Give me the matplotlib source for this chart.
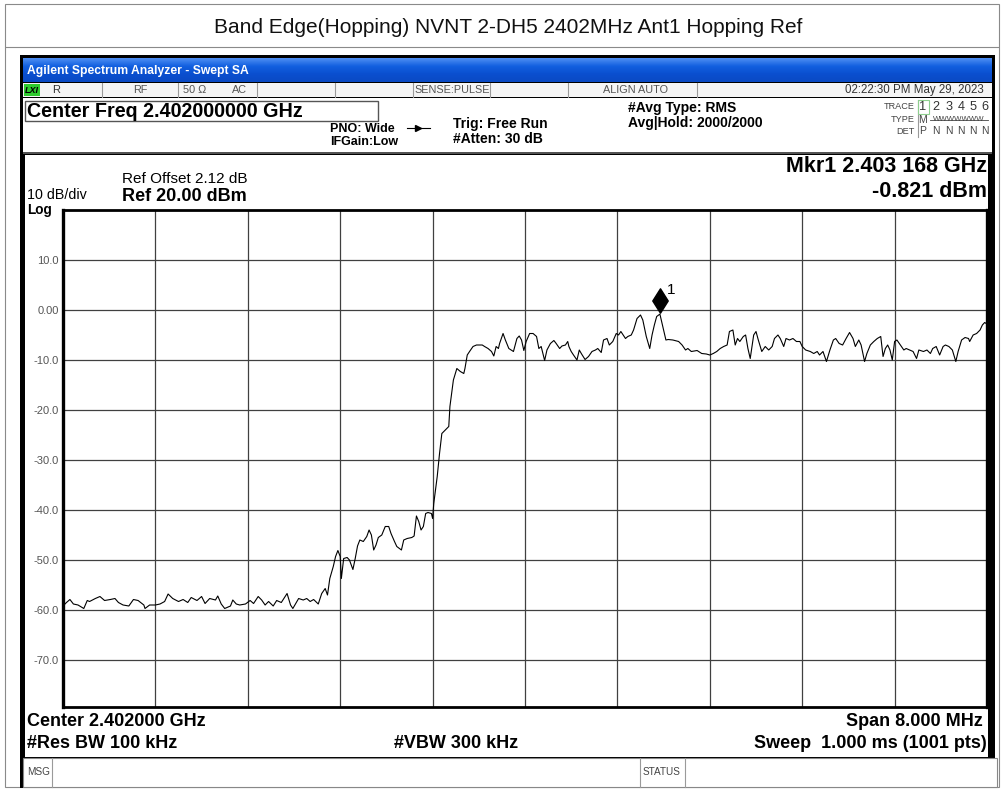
import numpy as np
import matplotlib
matplotlib.use("Agg")
import matplotlib.pyplot as plt
from matplotlib.patches import Rectangle
from matplotlib.path import Path
from matplotlib.colors import LinearSegmentedColormap

plt.rcParams['font.family'] = ['Liberation Sans', 'DejaVu Sans']

# ---------------- data ----------------
title = "Band Edge(Hopping) NVNT 2-DH5 2402MHz Ant1 Hopping Ref"
center_mhz = 2402.0
span_mhz = 8.0
ref_level = 20.0
db_per_div = 10.0
y_tick_values = [10, 0, -10, -20, -30, -40, -50, -60, -70]
y_tick_labels = ["10.0", "0.00", "-10.0", "-20.0", "-30.0", "-40.0", "-50.0", "-60.0", "-70.0"]

marker_mhz = 2403.168
marker_dbm = -0.821

# trace: offset from start frequency (MHz), level (dBm)
trace_offset_mhz = [
    0.00, 0.03, 0.06, 0.09, 0.13, 0.18, 0.21, 0.23, 0.28, 0.32, 0.36, 0.41, 0.45, 0.48,
    0.52, 0.57, 0.61, 0.65, 0.70, 0.71, 0.75, 0.80, 0.84, 0.88, 0.91, 0.95, 1.00, 1.04,
    1.08, 1.11, 1.16, 1.20, 1.23, 1.27, 1.32, 1.34, 1.37, 1.40, 1.45, 1.47, 1.50, 1.53,
    1.58, 1.62, 1.65, 1.69, 1.72, 1.75, 1.78, 1.82, 1.85, 1.89, 1.94, 1.97, 1.99, 2.04,
    2.08, 2.11, 2.14, 2.17, 2.21, 2.24, 2.27, 2.29, 2.31, 2.34, 2.36, 2.38, 2.40, 2.41,
    2.43, 2.46, 2.48, 2.51, 2.53, 2.55, 2.57, 2.60, 2.63, 2.65, 2.67, 2.69, 2.71, 2.73,
    2.76, 2.79, 2.82, 2.84, 2.87, 2.89, 2.93, 2.95, 2.98, 3.02, 3.04, 3.06, 3.08, 3.10,
    3.12, 3.14, 3.16, 3.19, 3.20, 3.21, 3.24, 3.26, 3.28, 3.31, 3.34, 3.35, 3.38, 3.41,
    3.44, 3.47, 3.48, 3.50, 3.52, 3.55, 3.58, 3.63, 3.65, 3.68, 3.71, 3.73, 3.75, 3.77,
    3.78, 3.81, 3.83, 3.86, 3.88, 3.90, 3.93, 3.95, 3.97, 3.99, 4.01, 4.04, 4.07, 4.10,
    4.12, 4.14, 4.17, 4.19, 4.22, 4.25, 4.27, 4.30, 4.32, 4.35, 4.37, 4.38, 4.40, 4.42,
    4.45, 4.47, 4.49, 4.52, 4.55, 4.58, 4.61, 4.63, 4.66, 4.68, 4.71, 4.73, 4.76, 4.79,
    4.81, 4.83, 4.85, 4.87, 4.89, 4.92, 4.94, 4.97, 5.00, 5.02, 5.05, 5.08, 5.10, 5.12,
    5.14, 5.168, 5.18, 5.20, 5.22, 5.24, 5.28, 5.33, 5.36, 5.39, 5.41, 5.44, 5.49, 5.53,
    5.57, 5.60, 5.63, 5.66, 5.69, 5.72, 5.75, 5.77, 5.80, 5.82, 5.84, 5.86, 5.89, 5.91,
    5.93, 5.95, 5.98, 6.00, 6.02, 6.05, 6.08, 6.11, 6.14, 6.16, 6.19, 6.21, 6.24, 6.26,
    6.29, 6.32, 6.35, 6.38, 6.40, 6.43, 6.47, 6.50, 6.53, 6.55, 6.58, 6.61, 6.64, 6.67,
    6.69, 6.72, 6.75, 6.78, 6.81, 6.84, 6.86, 6.89, 6.91, 6.94, 6.96, 6.99, 7.02, 7.05,
    7.08, 7.10, 7.12, 7.14, 7.16, 7.18, 7.20, 7.22, 7.25, 7.28, 7.30, 7.33, 7.36, 7.39,
    7.41, 7.45, 7.48, 7.51, 7.53, 7.56, 7.59, 7.62, 7.64, 7.67, 7.70, 7.73, 7.75, 7.78,
    7.81, 7.84, 7.85, 7.88, 7.91, 7.94, 7.96, 7.98, 8.00,
]
trace_dbm = [
    -59.2, -58.5, -57.9, -58.8, -59.0, -59.7, -58.1, -58.3, -57.7, -57.3, -58.1, -57.9, -57.7, -58.5,
    -59.0, -59.2, -57.9, -58.1, -59.0, -59.7, -59.0, -59.0, -58.8, -58.3, -56.8, -57.7, -58.3, -57.9,
    -58.5, -57.5, -58.1, -57.3, -58.7, -57.7, -58.0, -57.2, -58.8, -59.7, -59.2, -58.0, -58.8, -59.0,
    -58.8, -58.1, -58.7, -57.3, -58.0, -59.0, -58.3, -59.2, -58.1, -58.5, -56.7, -59.0, -59.7, -57.7,
    -58.0, -57.7, -58.3, -57.9, -58.8, -56.7, -55.7, -57.0, -53.7, -51.3, -49.3, -48.1, -49.3, -53.7,
    -49.7, -49.5, -50.0, -51.9, -49.7, -47.2, -46.0, -46.3, -45.3, -44.0, -45.0, -48.0, -47.0, -45.5,
    -45.0, -43.3, -43.3, -44.7, -46.3, -47.3, -48.0, -46.0, -45.7, -45.5, -45.2, -41.2, -42.3, -44.0,
    -43.3, -40.7, -40.5, -40.7, -41.7, -38.7, -33.3, -28.7, -24.7, -24.0, -23.3, -19.3, -14.0, -11.7,
    -12.3, -12.7, -11.7, -9.0, -8.3, -7.3, -7.0, -7.0, -7.3, -7.7, -8.3, -9.2, -7.3, -7.7,
    -6.7, -4.7, -6.0, -7.7, -8.0, -8.3, -5.7, -5.2, -6.0, -8.1, -6.3, -4.7, -4.7, -5.3,
    -7.7, -7.3, -10.1, -8.0, -6.7, -6.1, -6.7, -7.7, -7.2, -7.0, -6.3, -7.3, -8.3, -9.0,
    -10.0, -8.0, -8.8, -9.9, -9.3, -8.3, -8.0, -7.7, -8.5, -6.0, -5.7, -7.0, -6.3, -4.7,
    -5.0, -4.3, -5.0, -5.7, -5.3, -5.0, -4.0, -1.7, -1.0, -2.0, -5.3, -7.7, -5.0, -3.0,
    -1.3, -0.821, -2.0, -4.0, -6.0, -5.9, -6.0, -6.3, -7.0, -8.0, -7.7, -8.3, -8.1, -8.7,
    -8.8, -9.0, -8.7, -8.3, -7.7, -7.3, -7.0, -4.3, -4.0, -7.0, -5.7, -6.3, -5.3, -5.0,
    -7.7, -9.7, -5.0, -4.3, -6.0, -8.3, -7.3, -8.0, -7.3, -5.7, -5.0, -5.7, -7.3, -5.7,
    -6.0, -5.7, -6.3, -6.3, -7.3, -8.0, -8.3, -8.7, -8.3, -9.0, -8.3, -10.3, -8.0, -6.0,
    -5.7, -6.7, -7.0, -5.7, -4.5, -5.7, -7.3, -6.0, -7.0, -10.3, -8.7, -7.0, -6.3, -5.7,
    -5.3, -9.3, -7.7, -7.0, -8.0, -10.0, -6.3, -6.0, -7.0, -8.0, -7.7, -8.0, -8.3, -9.7,
    -8.0, -8.3, -8.0, -8.7, -7.7, -7.3, -9.0, -7.3, -7.0, -7.3, -8.0, -10.3, -8.3, -6.0,
    -5.5, -5.7, -6.3, -5.0, -4.7, -4.0, -3.0, -2.5, -2.8,
]

# ---------------- figure ----------------
W, H = 1003, 789
fig = plt.figure(figsize=(W / 100, H / 100), dpi=100)
bg = fig.add_axes([0, 0, 1, 1])
bg.set_xlim(0, W)
bg.set_ylim(H, 0)
bg.axis('off')

def rect(x0, y0, x1, y1, **kw):
    bg.add_patch(Rectangle((x0, y0), x1 - x0, y1 - y0, **kw))

def hline(y, x0, x1, c='#888888', lw=0.8):
    bg.plot([x0, x1], [y, y], color=c, lw=lw, solid_capstyle='butt')

def txt(x, y, s, size=8, weight='normal', ha='left', color='black', **kw):
    bg.text(x, y, s, fontsize=size, fontweight=weight, ha=ha, va='center', color=color, **kw)

# outer table frame and title
rect(5, 4, 999, 787, fill=False, ec='#8a8a8a', lw=0.8)
hline(47, 5, 999, c='#8a8a8a')
txt(508, 27, title, size=15, ha='center', color='#111111')

# screen black frame
rect(20, 55, 995, 788, fc='black', ec='none')
# blue title bar
grad = np.linspace(0, 1, 30).reshape(-1, 1)
cmap = LinearSegmentedColormap.from_list('bar', ['#4d8df2', '#1260e0', '#0a4fcf', '#0a4ac4'])
bg.imshow(grad, extent=(23, 992, 82, 58), aspect='auto', cmap=cmap, zorder=1)
txt(27, 71, "Agilent Spectrum Analyzer - Swept SA", size=8.7, weight='bold', color='white', zorder=3)
# status row
rect(23, 83, 992, 97, fc='#f5f5f5', ec='none', zorder=2)
for sx in [102, 178, 257, 335, 413, 490, 568, 697]:
    bg.plot([sx, sx], [83, 97], color='#9a9a9a', lw=0.8, zorder=3)
rect(24, 84, 40, 96, fc='#2ecc2e', ec='none', zorder=3)
txt(25, 90, "LXI", size=6.5, weight='bold', style='italic', zorder=4)
txt(52, 90, "R", size=8, color='#333333', zorder=4)
txt(140, 90, "RF", size=7.8, ha='center', color='#555555', zorder=4)
txt(195, 90, "50 Ω", size=7.8, ha='center', color='#555555', zorder=4)
txt(239, 90, "AC", size=7.8, ha='center', color='#555555', zorder=4)
txt(452, 90, "SENSE:PULSE", size=7.8, ha='center', color='#555555', zorder=4)
txt(636, 90, "ALIGN AUTO", size=7.8, ha='center', color='#555555', zorder=4)
txt(984, 90, "02:22:30 PM May 29, 2023", size=8.3, ha='right', color='#333333', zorder=4)

# header region
rect(23, 98, 992, 152, fc='white', ec='none', zorder=2)
rect(25, 101, 378, 121, fill=False, ec='#555555', lw=1.0, zorder=3)
txt(27, 111, "Center Freq 2.402000000 GHz", size=14.2, weight='bold', zorder=4)
txt(330, 129, "PNO: Wide", size=9, weight='bold', zorder=4)
txt(330, 142, "IFGain:Low", size=9, weight='bold', zorder=4)
bg.plot([407, 430], [128, 128], color='black', lw=0.8, zorder=4)
bg.plot([418], [128], marker='>', ms=4, color='black', zorder=4)
txt(453, 124, "Trig: Free Run", size=10, weight='bold', zorder=4)
txt(453, 139, "#Atten: 30 dB", size=10, weight='bold', zorder=4)
txt(628, 108, "#Avg Type: RMS", size=10, weight='bold', zorder=4)
txt(628, 123, "Avg|Hold: 2000/2000", size=10, weight='bold', zorder=4)
txt(915, 106, "TRACE", size=6.6, ha='right', color='#444444', zorder=4)
txt(915, 119, "TYPE", size=6.6, ha='right', color='#444444', zorder=4)
txt(915, 131, "DET", size=6.6, ha='right', color='#444444', zorder=4)
bg.plot([918, 918], [100, 137], color='#9a9a9a', lw=0.8, zorder=3)
rect(918, 100, 929, 114, fill=False, ec='#8fcf8f', lw=0.8, zorder=3)
for i, (cx, s_det) in enumerate(zip([923, 936, 949, 961, 973, 985],
                                    ["P", "N", "N", "N", "N", "N"])):
    txt(cx, 107, str(i + 1), size=9.2, ha='center', color='#333333', zorder=4)
    txt(cx, 131, s_det, size=7.5, ha='center', color='#444444', zorder=4)
txt(923, 119.5, "M", size=7.5, ha='center', color='#444444', zorder=4)
txt(959, 119.5, "WWWWWWW", size=5.6, ha='center', color='#444444', zorder=4)
bg.plot([930, 988], [119.5, 119.5], color='#444444', lw=0.6, zorder=5)
hline(153, 23, 992, c='#666666', lw=1.2)

# plot panel
rect(25, 155, 988, 757, fc='white', ec='none', zorder=2)
txt(122, 179, "Ref Offset 2.12 dB", size=11, zorder=4)
txt(122, 196, "Ref 20.00 dBm", size=13, weight='bold', zorder=4)
txt(27, 194.5, "10 dB/div", size=10.3, zorder=4)
txt(27, 210, "Log", size=9.8, weight='bold', zorder=4)
txt(987, 166, "Mkr1 2.403 168 GHz", size=15.5, weight='bold', ha='right', zorder=4)
txt(987, 191, "-0.821 dBm", size=15.5, weight='bold', ha='right', zorder=4)
txt(27, 722, "Center 2.402000 GHz", size=13, weight='bold', zorder=4)
txt(27, 743, "#Res BW 100 kHz", size=13, weight='bold', zorder=4)
txt(394, 743, "#VBW 300 kHz", size=13, weight='bold', zorder=4)
txt(983, 722, "Span 8.000 MHz", size=13, weight='bold', ha='right', zorder=4)
txt(987, 743, "Sweep  1.000 ms (1001 pts)", size=13, weight='bold', ha='right', zorder=4)

# message row
rect(23, 758, 997, 787, fc='white', ec='#888888', lw=0.8, zorder=2)
bg.plot([52, 52], [758, 787], color='#9a9a9a', lw=0.8, zorder=3)
bg.plot([640, 640], [758, 787], color='#9a9a9a', lw=0.8, zorder=3)
bg.plot([685, 685], [758, 787], color='#9a9a9a', lw=0.8, zorder=3)
txt(27, 772, "MSG", size=7.2, color='#444444', zorder=4)
txt(662, 772, "STATUS", size=7.2, ha='center', color='#444444', zorder=4)

bg.set_xlim(0, W)
bg.set_ylim(H, 0)

# ---------------- spectrum graticule ----------------
top_px, bot_px, left_px, right_px = 210, 707, 63, 987
ax = fig.add_axes([left_px / W, 1 - bot_px / H, (right_px - left_px) / W, (bot_px - top_px) / H])
ax.set_facecolor('none')
start_mhz = center_mhz - span_mhz / 2
stop_mhz = center_mhz + span_mhz / 2
ax.set_xlim(start_mhz, stop_mhz)
ax.set_ylim(ref_level - 10 * db_per_div + (710 - bot_px) / 5.0, ref_level)
ax.set_xticks(np.linspace(start_mhz, stop_mhz, 11)[1:-1])
ax.set_xticklabels([])
ax.set_yticks(y_tick_values)
ax.set_yticklabels(y_tick_labels)
ax.tick_params(axis='both', length=0, pad=3)
ax.tick_params(axis='y', labelsize=8, labelcolor='#555555')
ax.grid(True, color='#404040', lw=0.9)
for side in ['top', 'bottom']:
    ax.spines[side].set_linewidth(2.0)
for side in ['left', 'right']:
    ax.spines[side].set_linewidth(2.4)

freqs = [start_mhz + o for o in trace_offset_mhz]
ax.plot(freqs, trace_dbm, color='black', lw=0.8, zorder=5)

# marker diamond sitting on the peak
dpath = Path([(0, 0.1), (-0.6, 1.05), (0, 2.0), (0.6, 1.05), (0, 0.1)],
             [Path.MOVETO, Path.LINETO, Path.LINETO, Path.LINETO, Path.CLOSEPOLY])
ax.plot([marker_mhz], [marker_dbm], marker=dpath, ms=37, color='black', mec='black', zorder=6,
        clip_on=False)
ax.annotate("1", xy=(marker_mhz, marker_dbm), xytext=(5, 12), textcoords='offset points',
            fontsize=11, ha='left', va='bottom', color='black')

fig.savefig("out.png", dpi=100)
